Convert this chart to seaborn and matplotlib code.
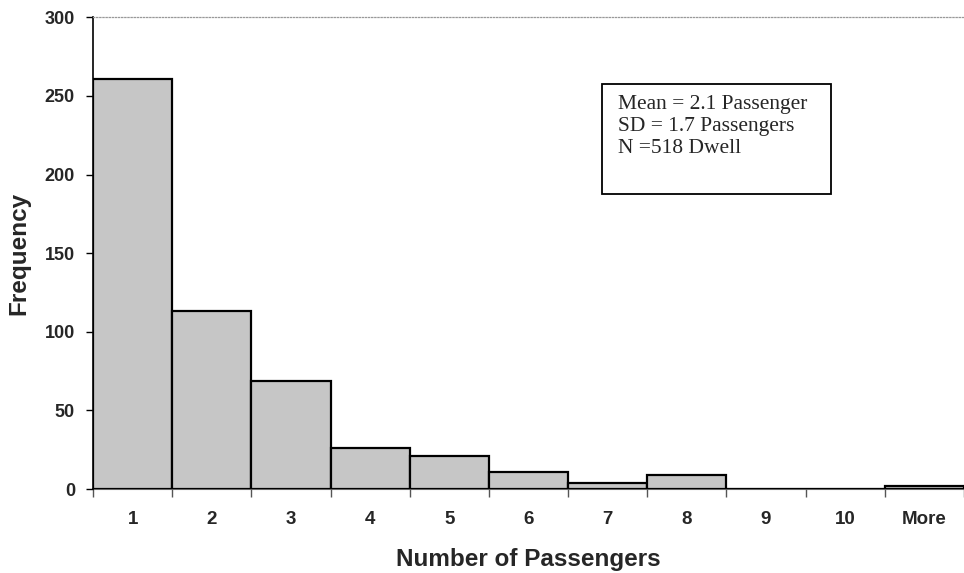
import matplotlib
matplotlib.use("Agg")
import matplotlib.pyplot as plt
import seaborn as sns
import pandas as pd
from matplotlib.patches import Rectangle

categories = ["1", "2", "3", "4", "5", "6", "7", "8", "9", "10", "More"]
frequency = [261, 113, 69, 26, 21, 11, 4, 9, 0, 0, 2]
y_ticks = [0, 50, 100, 150, 200, 250, 300]
stats_lines = ["Mean = 2.1 Passenger", "SD = 1.7 Passengers", "N =518 Dwell"]

sns.set_theme(style="white")
plt.rcParams["font.family"] = ["Liberation Sans", "DejaVu Sans"]

df = pd.DataFrame({"passengers": categories, "frequency": frequency})

fig = plt.figure(figsize=(9.64, 5.73), dpi=100)
ax = fig.add_axes([93 / 964, 1 - 489 / 573, 1 - 93 / 964, (489 - 17.3) / 573])

sns.barplot(data=df, x="passengers", y="frequency", order=categories,
            color="#c6c6c6", saturation=1, width=1.0,
            edgecolor="black", linewidth=1.6, ax=ax)

ax.set_ylim(0, 300)
ax.set_xlim(-0.5, 10.44)
ax.set_yticks(y_ticks)
ax.set_yticklabels([str(t) for t in y_ticks], fontsize=13, fontweight="bold")

# x: tick marks at bin boundaries, labels at centres
ax.set_xticks([i - 0.5 for i in range(len(categories) + 1)])
ax.set_xticklabels([""] * (len(categories) + 1))
ax.set_xticks(range(len(categories)), minor=True)
ax.set_xticklabels(categories, minor=True, fontsize=13.5, fontweight="bold")
ax.tick_params(axis="x", which="major", direction="out", length=6, width=1, color="#555555", bottom=True)
ax.tick_params(axis="x", which="minor", length=0, pad=16)
ax.tick_params(axis="y", direction="out", length=5, width=1, color="black", left=True, pad=8)

ax.set_xlabel("Number of Passengers", fontsize=17.5, fontweight="bold", labelpad=14)
ax.set_ylabel("Frequency", fontsize=17.5, fontweight="bold", labelpad=10)

ax.spines["right"].set_visible(False)
ax.spines["left"].set_color("black")
ax.spines["left"].set_linewidth(1.2)
ax.spines["top"].set_color("#999999")
ax.spines["top"].set_linestyle((0, (1, 1.5)))
ax.spines["top"].set_linewidth(0.9)
ax.spines["bottom"].set_color("#666666")
ax.spines["bottom"].set_linewidth(1.5)
ax.spines["bottom"].set_zorder(0)

# statistics box
box = Rectangle((601.7 / 964, 1 - 194 / 573), (830.7 - 601.7) / 964, (194 - 84.3) / 573,
                transform=fig.transFigure, fill=False, edgecolor="black", linewidth=1.3)
fig.patches.append(box)
fig.text(618 / 964, 1 - 95 / 573, "\n".join(stats_lines), ha="left", va="top",
         fontsize=15.5, family=["Liberation Serif", "DejaVu Serif"], linespacing=1.2)

fig.savefig("out.png", dpi=100)
